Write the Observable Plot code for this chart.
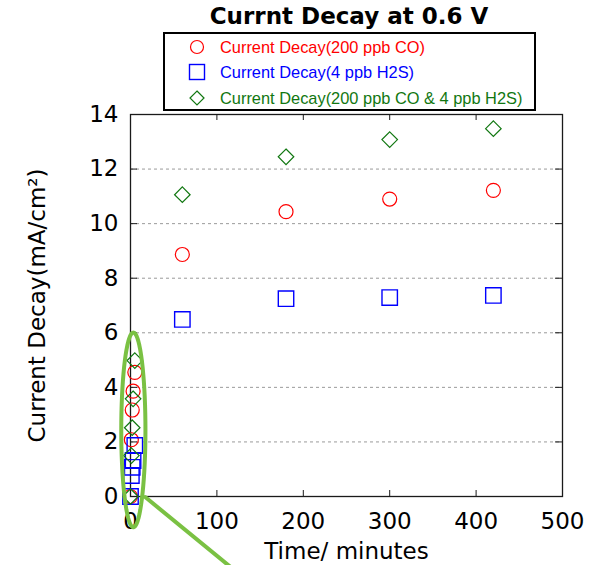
<!DOCTYPE html>
<html>
<head>
<meta charset="utf-8">
<script src="https://cdn.jsdelivr.net/npm/d3@7"></script>
<script src="https://cdn.jsdelivr.net/npm/@observablehq/plot@0.6"></script>
<style>
  html, body { margin: 0; padding: 0; background: #fff; }
  #wrap { position: relative; width: 589px; height: 565px; overflow: hidden; }
  #chart { position: absolute; left: 0; top: 0; }
  #title { position: absolute; left: 149px; top: 3px; width: 400px; text-align: center;
           font-family: "DejaVu Sans", sans-serif; font-weight: bold; font-size: 23px; line-height: 27px; color: #000; }
  #legend { position: absolute; left: 163px; top: 32px; width: 369px; height: 75px;
            border: 2px solid #000; background: #fff; font-family: "Liberation Sans", Arial, sans-serif; font-size: 16.4px; }
  .row { position: absolute; left: 0; height: 20px; display: flex; align-items: center; }
  .row svg { position: absolute; left: 22px; top: 0; }
  .row span { position: absolute; left: 55px; white-space: nowrap; line-height: 20px; }
</style>
</head>
<body>
<div id="wrap">
  <div id="chart"></div>
  <div id="title"></div>
  <div id="legend"></div>
</div>
<script>
// ---- data ----
const titleText = "Currnt Decay at 0.6 V";
const xLabel = "Time/ minutes";
const yLabel = "Current Decay(mA/cm²)";
const seriesNames = ["Current Decay(200 ppb CO)", "Current Decay(4 ppb H2S)", "Current Decay(200 ppb CO & 4 ppb H2S)"];
const seriesColors = ["#ff0000", "#0000ff", "#117711"];
const seriesSymbols = ["circle", "square", "diamond2"];

const coTime = [0, 1, 2, 3, 5, 60, 180, 300, 420];
const coCurrent = [0, 2.08, 3.17, 3.86, 4.55, 8.87, 10.44, 10.90, 11.22];
const h2sTime = [0, 1, 2, 3, 5, 60, 180, 300, 420];
const h2sCurrent = [0, 0.77, 1.07, 1.32, 1.87, 6.49, 7.25, 7.29, 7.37];
const mixTime = [0, 1, 2, 3, 5, 60, 180, 300, 420];
const mixCurrent = [0, 1.50, 2.52, 3.58, 4.98, 11.06, 12.45, 13.08, 13.48];

const xTicks = [0, 100, 200, 300, 400, 500];
const yTicks = [0, 2, 4, 6, 8, 10, 12, 14];
const gridValues = [2, 4, 6, 8, 10, 12];

// annotation (green ellipse around the early points and pointer line), data units
const ellipseCenter = [3.3, 2.44];
const ellipseRadius = [14, 3.57];
const pointerX = [17, 128];
const pointerY = [-0.02, -2.9];

// ---- build tables ----
const toRows = (t, v, s) => t.map((d, i) => ({time: d, current: v[i], series: s}));
const coRows = toRows(coTime, coCurrent, seriesNames[0]);
const h2sRows = toRows(h2sTime, h2sCurrent, seriesNames[1]);
const mixRows = toRows(mixTime, mixCurrent, seriesNames[2]);
const ellipsePts = d3.range(72).map(i => {
  const a = (i / 72) * 2 * Math.PI;
  return {x: ellipseCenter[0] + ellipseRadius[0] * Math.cos(a), y: ellipseCenter[1] + ellipseRadius[1] * Math.sin(a)};
});
const pointerPts = pointerX.map((d, i) => ({x: d, y: pointerY[i]}));

// ---- layout ----
const W = 589, H = 565, mL = 130, mR = 27, mT = 114, mB = 69;
const frameW = W - mL - mR, frameH = H - mT - mB;
const tickLen = 6;
const axisColor = "#1a1a1a";

const chart = Plot.plot({
  width: W, height: H,
  marginLeft: mL, marginRight: mR, marginTop: mT, marginBottom: mB,
  style: {fontFamily: "DejaVu Sans, sans-serif", background: "white", color: "#000", overflow: "visible"},
  x: {domain: [0, 500]},
  y: {domain: [0, 14]},
  marks: [
    Plot.ruleY(gridValues, {stroke: "#9a9a9a", strokeDasharray: "3,3", strokeWidth: 1}),
    Plot.frame({stroke: axisColor, strokeWidth: 1.3}),
    Plot.ruleX(xTicks, {insetTop: frameH - tickLen, stroke: axisColor}),
    Plot.ruleX(xTicks, {insetBottom: frameH - tickLen, stroke: axisColor}),
    Plot.ruleY(yTicks, {insetRight: frameW - 7, stroke: axisColor}),
    Plot.ruleY(yTicks, {insetLeft: frameW - 7, stroke: axisColor}),
    Plot.axisX(xTicks, {anchor: "bottom", tickSize: 0, tickPadding: 16, fontSize: 23,
      label: xLabel, labelAnchor: "center", labelArrow: "none", labelOffset: 62}),
    Plot.axisY(yTicks, {anchor: "left", tickSize: 0, tickPadding: 12, fontSize: 23,
      label: yLabel, labelAnchor: "center", labelArrow: "none", labelOffset: 102}),
    Plot.dot(coRows, {x: "time", y: "current", r: 7, symbol: seriesSymbols[0], stroke: seriesColors[0], fill: "none", strokeWidth: 1.2}),
    Plot.dot(h2sRows, {x: "time", y: "current", r: 8.7, symbol: seriesSymbols[1], stroke: seriesColors[1], fill: "none", strokeWidth: 1.4}),
    Plot.dot(mixRows, {x: "time", y: "current", r: 7, symbol: seriesSymbols[2], stroke: seriesColors[2], fill: "none", strokeWidth: 1.2}),
    Plot.line(ellipsePts, {x: "x", y: "y", stroke: "#7ac143", strokeWidth: 4, curve: "linear-closed"}),
    Plot.line(pointerPts, {x: "x", y: "y", stroke: "#7ac143", strokeWidth: 4})
  ]
});
document.getElementById("chart").appendChild(chart);

// ---- title ----
document.getElementById("title").textContent = titleText;

// ---- legend ----
const legend = document.getElementById("legend");
const rowTops = [3, 28, 54];
seriesNames.forEach((name, i) => {
  const row = document.createElement("div");
  row.className = "row";
  row.style.top = rowTops[i] + "px";
  const sym = seriesSymbols[i];
  let shape;
  if (sym === "circle") shape = `<circle cx="10" cy="10" r="6.5" fill="none" stroke="${seriesColors[i]}" stroke-width="1.2"/>`;
  else if (sym === "square") shape = `<rect x="2.5" y="2.5" width="15" height="15" fill="none" stroke="${seriesColors[i]}" stroke-width="1.4"/>`;
  else shape = `<polygon points="10,3 17,10 10,17 3,10" fill="none" stroke="${seriesColors[i]}" stroke-width="1.2"/>`;
  row.innerHTML = `<svg width="20" height="20">${shape}</svg><span style="color:${seriesColors[i]}">${name}</span>`;
  legend.appendChild(row);
});
</script>
</body>
</html>
